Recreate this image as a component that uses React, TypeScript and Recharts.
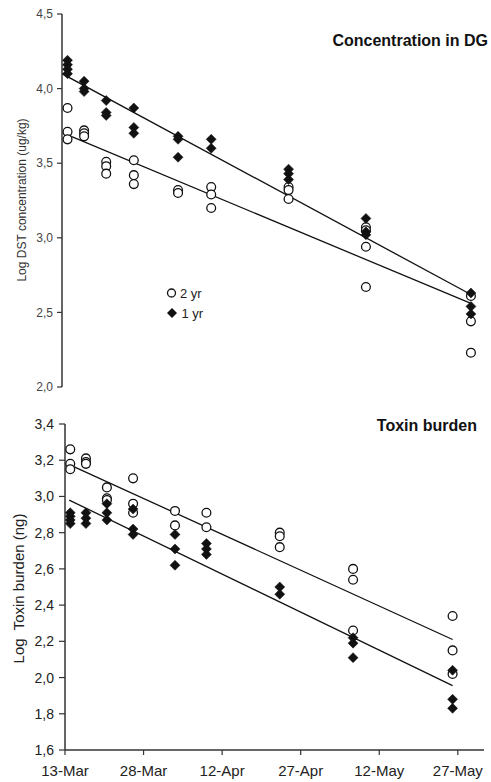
import React from 'react';
import { ComposedChart, Scatter, Line, XAxis, YAxis } from 'recharts';

// Sampling dates as days after 13-Mar
const sampleDays = [1, 4, 8, 13, 21, 27, 41, 55, 74];

const xTickDays = [0, 15, 30, 45, 60, 75];
const xTickLabels = ['13-Mar', '28-Mar', '12-Apr', '27-Apr', '12-May', '27-May'];

const dgTicks = [2.0, 2.5, 3.0, 3.5, 4.0, 4.5];
const tbTicks = [1.6, 1.8, 2.0, 2.2, 2.4, 2.6, 2.8, 3.0, 3.2, 3.4];

// Concentration in DG (log DST, ug/kg)
const dgTwoYr = [
  [3.87, 3.71, 3.66],
  [3.72, 3.7, 3.68],
  [3.51, 3.48, 3.43],
  [3.52, 3.42, 3.36],
  [3.32, 3.3],
  [3.34, 3.29, 3.2],
  [3.34, 3.32, 3.26],
  [3.07, 3.05, 2.94, 2.67],
  [2.61, 2.44, 2.23],
];
const dgOneYr = [
  [4.19, 4.16, 4.13, 4.1],
  [4.05, 4.0, 3.98],
  [3.92, 3.84, 3.82],
  [3.87, 3.74, 3.7],
  [3.68, 3.66, 3.54],
  [3.66, 3.6],
  [3.46, 3.43, 3.39],
  [3.13, 3.04, 3.02],
  [2.63, 2.54, 2.49],
];

// Toxin burden (log ng)
const tbTwoYr = [
  [3.26, 3.18, 3.15],
  [3.21, 3.19, 3.18],
  [3.05, 2.99, 2.98],
  [3.1, 2.96, 2.91],
  [2.92, 2.84],
  [2.91, 2.83],
  [2.8, 2.78, 2.72],
  [2.6, 2.54, 2.26],
  [2.34, 2.15, 2.02],
];
const tbOneYr = [
  [2.91, 2.89, 2.87, 2.85],
  [2.91, 2.88, 2.85],
  [2.96, 2.91, 2.87],
  [2.93, 2.82, 2.79],
  [2.79, 2.71, 2.62],
  [2.74, 2.71, 2.68],
  [2.5, 2.46],
  [2.22, 2.19, 2.11],
  [2.04, 1.88, 1.83],
];

// Regression lines: [start day, start value, end day, end value]
const dgTrendOneYr = [0, 4.1, 74, 2.62];
const dgTrendTwoYr = [1, 3.69, 74, 2.56];
const tbTrendTwoYr = [0.5, 3.18, 74, 2.21];
const tbTrendOneYr = [0.8, 2.98, 74, 1.955];

const toPoints = (cols: number[][]) =>
  cols.flatMap((vals, i) => vals.map((v) => ({ day: sampleDays[i], value: v })));
const toLine = (t: number[]) => [
  { day: t[0], value: t[1] },
  { day: t[2], value: t[3] },
];

const FONT = '"Liberation Sans", Arial, Helvetica, sans-serif';
const fmt = (v: number) => v.toFixed(1).replace('.', ',');

const OpenCircle = (p: any) => (
  <circle cx={p.cx} cy={p.cy} r={4.4} fill="#fff" stroke="#111" strokeWidth={1.3} />
);
const Diamond = (p: any) => (
  <polygon
    points={`${p.cx},${p.cy - 5} ${p.cx + 5},${p.cy} ${p.cx},${p.cy + 5} ${p.cx - 5},${p.cy}`}
    fill="#111"
    stroke="#111"
    strokeWidth={0.5}
  />
);

export default function App() {
  return (
    <div style={{ position: 'absolute', left: 0, top: 0, width: 491, height: 782, background: '#fff' }}>
      <div style={{ position: 'absolute', left: 0, top: 0 }}>
        <ComposedChart width={491} height={395} margin={{ top: 14, right: 3.5, bottom: 8, left: 0 }}>
          <XAxis type="number" dataKey="day" domain={[0, 77]} allowDataOverflow hide />
          <YAxis
            type="number"
            dataKey="value"
            domain={[2, 4.5]}
            ticks={dgTicks}
            allowDataOverflow
            width={62}
            tickFormatter={fmt}
            tickSize={5}
            tickMargin={4}
            axisLine={{ stroke: '#333', strokeWidth: 1.5 }}
            tickLine={{ stroke: '#333', strokeWidth: 1.2 }}
            tick={{ fontSize: 12, fill: '#444', fontFamily: FONT }}
            label={() => (
              <text
                transform="translate(26,200) rotate(-90)"
                textAnchor="middle"
                fontSize={12}
                fill="#333"
                fontFamily={FONT}
              >
                Log DST concentration (ug/kg)
              </text>
            )}
          />
          <Scatter data={toPoints(dgTwoYr)} shape={OpenCircle} isAnimationActive={false} />
          <Scatter data={toPoints(dgOneYr)} shape={Diamond} isAnimationActive={false} />
          <Line data={toLine(dgTrendOneYr)} dataKey="value" stroke="#111" strokeWidth={1.3} dot={false} isAnimationActive={false} type="linear" />
          <Line data={toLine(dgTrendTwoYr)} dataKey="value" stroke="#111" strokeWidth={1.3} dot={false} isAnimationActive={false} type="linear" />
          <text x={488} y={46} textAnchor="end" fontSize={16} fontWeight="bold" fill="#111" fontFamily={FONT}>
            Concentration in DG
          </text>
          <circle cx={171.5} cy={293} r={4} fill="#fff" stroke="#111" strokeWidth={1.3} />
          <text x={180} y={297.5} fontSize={13} fill="#222" fontFamily={FONT}>2 yr</text>
          <polygon points="172,308 177,313 172,318 167,313" fill="#111" />
          <text x={181.5} y={317.5} fontSize={13} fill="#222" fontFamily={FONT}>1 yr</text>
        </ComposedChart>
      </div>
      <div style={{ position: 'absolute', left: 0, top: 395 }}>
        <ComposedChart width={491} height={387} margin={{ top: 29, right: 7, bottom: 0, left: 0 }}>
          <XAxis
            type="number"
            dataKey="day"
            domain={[0, 80]}
            allowDataOverflow
            ticks={xTickDays}
            tickFormatter={(v: number) => xTickLabels[xTickDays.indexOf(v)] ?? ''}
            height={32}
            tickSize={5}
            tickMargin={10}
            axisLine={{ stroke: '#333', strokeWidth: 1.5 }}
            tickLine={{ stroke: '#333', strokeWidth: 1.2 }}
            tick={{ fontSize: 15, fill: '#222', fontFamily: FONT }}
            interval={0}
          />
          <YAxis
            type="number"
            dataKey="value"
            domain={[1.6, 3.4]}
            ticks={tbTicks}
            allowDataOverflow
            width={65}
            tickFormatter={fmt}
            tickSize={6}
            tickMargin={5}
            axisLine={{ stroke: '#333', strokeWidth: 1.5 }}
            tickLine={{ stroke: '#333', strokeWidth: 1.2 }}
            tick={{ fontSize: 14, fill: '#222', fontFamily: FONT }}
            interval={0}
            label={() => (
              <text
                transform="translate(24,193.5) rotate(-90)"
                textAnchor="middle"
                fontSize={15}
                fill="#222"
                fontFamily={FONT}
                style={{ whiteSpace: 'pre' }}
              >
                {'Log  Toxin burden (ng)'}
              </text>
            )}
          />
          <Scatter data={toPoints(tbTwoYr)} shape={OpenCircle} isAnimationActive={false} />
          <Scatter data={toPoints(tbOneYr)} shape={Diamond} isAnimationActive={false} />
          <Line data={toLine(tbTrendTwoYr)} dataKey="value" stroke="#111" strokeWidth={1.3} dot={false} isAnimationActive={false} type="linear" />
          <Line data={toLine(tbTrendOneYr)} dataKey="value" stroke="#111" strokeWidth={1.3} dot={false} isAnimationActive={false} type="linear" />
          <text x={477} y={36} textAnchor="end" fontSize={16} fontWeight="bold" fill="#111" fontFamily={FONT}>
            Toxin burden
          </text>
        </ComposedChart>
      </div>
    </div>
  );
}
